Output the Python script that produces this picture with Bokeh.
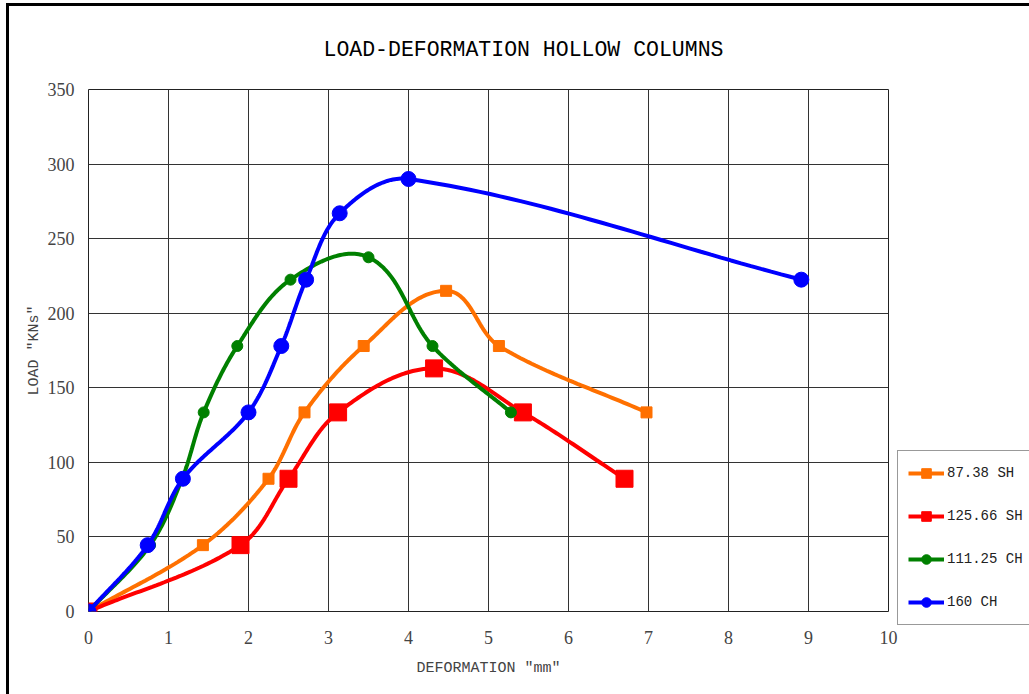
import numpy as np
from bokeh.plotting import figure
from bokeh.models import (Range1d, FixedTicker, Legend, LegendItem,
                          ColumnDataSource, InlineStyleSheet)
from bokeh.embed import file_html
from bokeh.resources import INLINE

# ---------------- data ----------------
x_ticks = [0, 1, 2, 3, 4, 5, 6, 7, 8, 9, 10]
y_ticks = [0, 50, 100, 150, 200, 250, 300, 350]

sh87_x = [0, 1.43, 2.25, 2.70, 3.44, 4.47, 5.13, 6.975]
sh87_y = [0, 44.5, 89, 133.5, 178, 215, 178, 133.5]

sh125_x = [0, 1.90, 2.50, 3.12, 4.32, 5.43, 6.70]
sh125_y = [0, 44.5, 89, 133.5, 163, 133.5, 89]

ch111_x = [0, 0.77, 1.17, 1.44, 1.86, 2.525, 3.50, 4.30, 5.28]
ch111_y = [0, 44.5, 89, 133.5, 178, 222.5, 237.5, 178, 133.5]

ch160_x = [0, 0.74, 1.18, 2.00, 2.41, 2.72, 3.14, 4.00, 8.91]
ch160_y = [0, 44.5, 89, 133.5, 178, 222.5, 267, 290, 222.5]

series = [
    ("87.38 SH", sh87_x, sh87_y, "#FF7000", "square", 11),
    ("125.66 SH", sh125_x, sh125_y, "#FF0000", "square", 17),
    ("111.25 CH", ch111_x, ch111_y, "#008000", "circle", 11),
    ("160 CH", ch160_x, ch160_y, "#0000FF", "circle", 15),
]

W, H = 1029, 694
FL, FR, FT, FB = 88, 888, 89, 611
SX = (FR - FL) / 10.0      # px per x unit (for shape-correct smoothing)
SY = (FB - FT) / 350.0     # px per y unit


def smooth(xs, ys, n=40, k=1 / 3.0):
    """Excel-like smoothed line through the data points (Bezier segments)."""
    P = np.column_stack([np.asarray(xs) * SX, np.asarray(ys) * SY]).astype(float)
    m = len(P)
    out = [P[0]]
    t = np.linspace(0, 1, n)[1:, None]
    for i in range(m - 1):
        p0 = P[i - 1] if i > 0 else P[i]
        p1 = P[i]
        p2 = P[i + 1]
        p3 = P[i + 2] if i + 2 < m else P[i + 1]
        d = np.linalg.norm(p2 - p1)
        t1 = p2 - p0
        t1 = t1 / np.linalg.norm(t1)
        t2 = p3 - p1
        t2 = t2 / np.linalg.norm(t2)
        c1 = p1 + t1 * d * k
        c2 = p2 - t2 * d * k
        seg = ((1 - t) ** 3) * p1 + 3 * ((1 - t) ** 2) * t * c1 + 3 * (1 - t) * t ** 2 * c2 + t ** 3 * p2
        out.extend(seg)
    out = np.array(out)
    return out[:, 0] / SX, out[:, 1] / SY


frame_css = InlineStyleSheet(css="""
:host::after {
  content: "";
  position: absolute;
  left: 6px; top: 3px;
  width: 1023px; height: 691px;
  border-left: 3px solid black;
  border-top: 3px solid black;
  box-sizing: border-box;
  pointer-events: none;
}
""")

p = figure(frame_width=FR - FL, frame_height=FB - FT,
           output_backend="svg", toolbar_location=None,
           x_range=Range1d(0, 10), y_range=Range1d(0, 350),
           min_border_left=FL, min_border_right=W - FR,
           min_border_top=FT, min_border_bottom=H - FB,
           stylesheets=[frame_css])

p.background_fill_color = "white"
p.border_fill_color = "white"
p.outline_line_color = "#222222"
p.outline_line_width = 1

p.title.text = "LOAD-DEFORMATION HOLLOW COLUMNS"
p.title.text_font = "Liberation Mono"
p.title.text_font_size = "21.5px"
p.title.text_font_style = "normal"
p.title.text_color = "black"
p.title.align = "left"
p.title.offset = 323 - FL
p.title.standoff = 56

p.xaxis.ticker = FixedTicker(ticks=x_ticks)
p.yaxis.ticker = FixedTicker(ticks=y_ticks)
p.xgrid.ticker = FixedTicker(ticks=x_ticks)
p.ygrid.ticker = FixedTicker(ticks=y_ticks)
for g in (p.xgrid, p.ygrid):
    g.grid_line_color = "#333333"
    g.grid_line_width = 1

for ax in (p.xaxis, p.yaxis):
    ax.axis_line_color = None
    ax.major_tick_line_color = None
    ax.minor_tick_line_color = None
    ax.major_label_text_font = "Liberation Serif"
    ax.major_label_text_font_size = "18px"
    ax.major_label_text_color = "#444444"
    ax.axis_label_text_font = "Liberation Mono"
    ax.axis_label_text_font_size = "15px"
    ax.axis_label_text_font_style = "normal"
    ax.axis_label_text_color = "#444444"

p.xaxis.axis_label = "DEFORMATION ″mm″"
p.yaxis.axis_label = "LOAD ″KNs″"
p.xaxis.major_label_standoff = 13
p.yaxis.major_label_standoff = 8
p.xaxis.axis_label_standoff = 13
p.yaxis.axis_label_standoff = 2

items = []
for name, xs, ys, color, marker, size in series:
    sx, sy = smooth(xs, ys)
    r1 = p.line(sx, sy, line_color=color, line_width=4)
    src = ColumnDataSource(dict(x=xs, y=ys))
    r2 = p.scatter("x", "y", source=src, marker=marker, size=size,
                   fill_color=color, line_color=color)
    items.append(LegendItem(label=name, renderers=[r1, r2]))

legend = Legend(items=items, location=(9, -14))
legend.label_text_font = "Liberation Mono"
legend.label_text_font_size = "14px"
legend.label_text_color = "#222222"
legend.glyph_width = 36
legend.glyph_height = 24
legend.label_height = 24
legend.spacing = 19
legend.padding = 10
legend.margin = 0
legend.label_standoff = 3
legend.label_width = 72
legend.border_line_color = "#333333"
legend.border_line_width = 1
legend.background_fill_color = "white"
legend.background_fill_alpha = 1
p.add_layout(legend, "right")

open("out.html", "w").write(file_html(p, INLINE))
